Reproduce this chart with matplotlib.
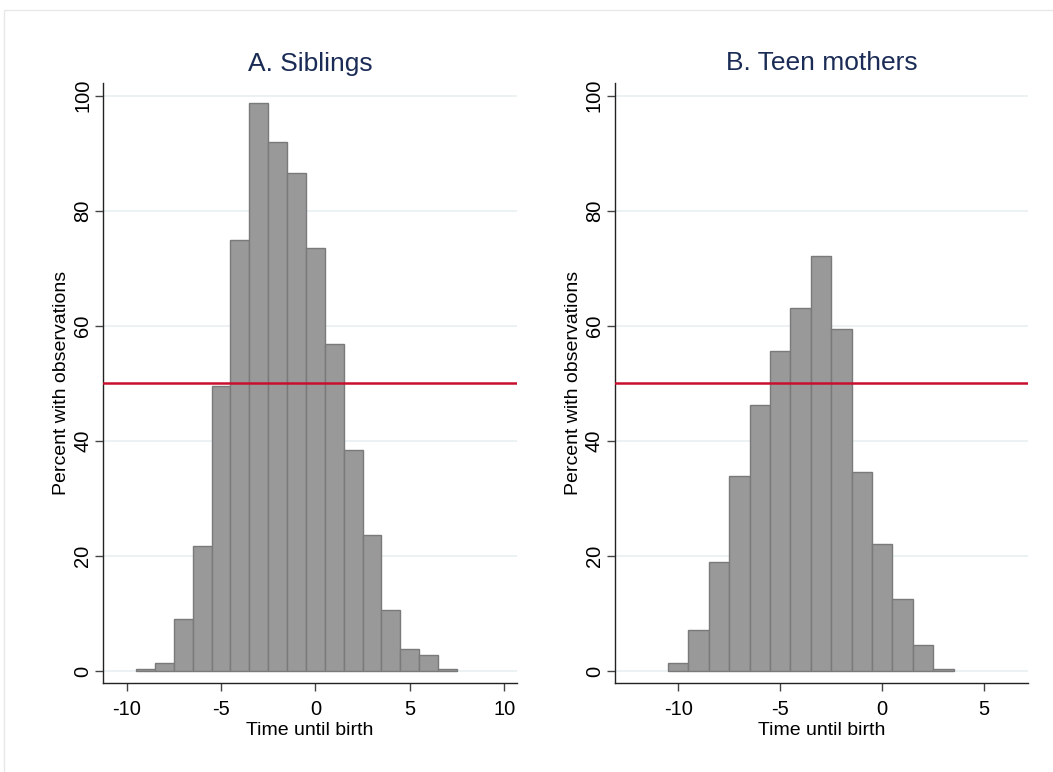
import matplotlib.pyplot as plt
import numpy as np

plt.rcParams['font.family'] = ['Liberation Sans', 'DejaVu Sans']
plt.rcParams['axes.unicode_minus'] = False

# bin centres (width 1) and percent with observations
sib_time = [-9, -8, -7, -6, -5, -4, -3, -2, -1, 0, 1, 2, 3, 4, 5, 6, 7]
sib_pct = [0.4, 1.4, 9.1, 21.7, 49.6, 75.0, 98.7, 91.9, 86.6, 73.6,
           56.8, 38.5, 23.7, 10.7, 3.9, 2.85, 0.4]

teen_time = [-10, -9, -8, -7, -6, -5, -4, -3, -2, -1, 0, 1, 2, 3]
teen_pct = [1.4, 7.2, 19.0, 34.0, 46.3, 55.7, 63.1, 72.2, 59.5, 34.6,
            22.1, 12.5, 4.6, 0.3]

titles = ["A. Siblings", "B. Teen mothers"]
xticks_sib = [-10, -5, 0, 5, 10]
xticks_teen = [-10, -5, 0, 5]
yticks = [0, 20, 40, 60, 80, 100]
threshold = 50

W, H = 1053, 772
fig = plt.figure(figsize=(W / 100, H / 100), dpi=100)

# light frame of the graph region
fig.patches.append(plt.Rectangle((4 / W, -0.05), 1.1, 1 - 10 / H + 0.05,
                                 transform=fig.transFigure, fill=False,
                                 edgecolor='#e8e8e8', linewidth=1))

ax1 = fig.add_axes([103.3 / W, 1 - 683.3 / H, 413.4 / W, 600.3 / H])
ax2 = fig.add_axes([615 / W, 1 - 683.3 / H, 412.7 / W, 600.3 / H])

panels = [
    (ax1, sib_time, sib_pct, xticks_sib, (-11.23, 10.66)),
    (ax2, teen_time, teen_pct, xticks_teen, (-13.1, 7.13)),
]

for i, (ax, t, p, xt, xl) in enumerate(panels):
    ax.bar(t, p, width=1.0, color='#999999', edgecolor='#7a7a7a',
           linewidth=1.0, zorder=2)
    ax.axhline(threshold, color='#c8102e', linewidth=1.8, zorder=3)
    ax.set_xlim(*xl)
    ax.set_ylim(-2.1, 102.2)
    ax.set_xticks(xt)
    ax.set_yticks(yticks)
    ax.set_yticklabels([str(v) for v in yticks], rotation=90, va='center')
    ax.yaxis.grid(True, color='#eaf1f3', linewidth=1.3, zorder=0)
    ax.set_axisbelow(True)
    for s in ['top', 'right']:
        ax.spines[s].set_visible(False)
    for s in ['left', 'bottom']:
        ax.spines[s].set_color('#222222')
        ax.spines[s].set_linewidth(1.0)
    ax.tick_params(axis='both', direction='out', length=6, width=1,
                   color='#444444', labelsize=14.5)
    ax.tick_params(axis='y', pad=2)
    ax.tick_params(axis='x', pad=6)
    ax.set_xlabel("Time until birth", fontsize=14, labelpad=2)
    ax.set_ylabel("Percent with observations", fontsize=14, labelpad=2)
    ax.set_title(titles[i], fontsize=19, color='#1a2b55', pad=9)

fig.savefig("out.png", dpi=100)
